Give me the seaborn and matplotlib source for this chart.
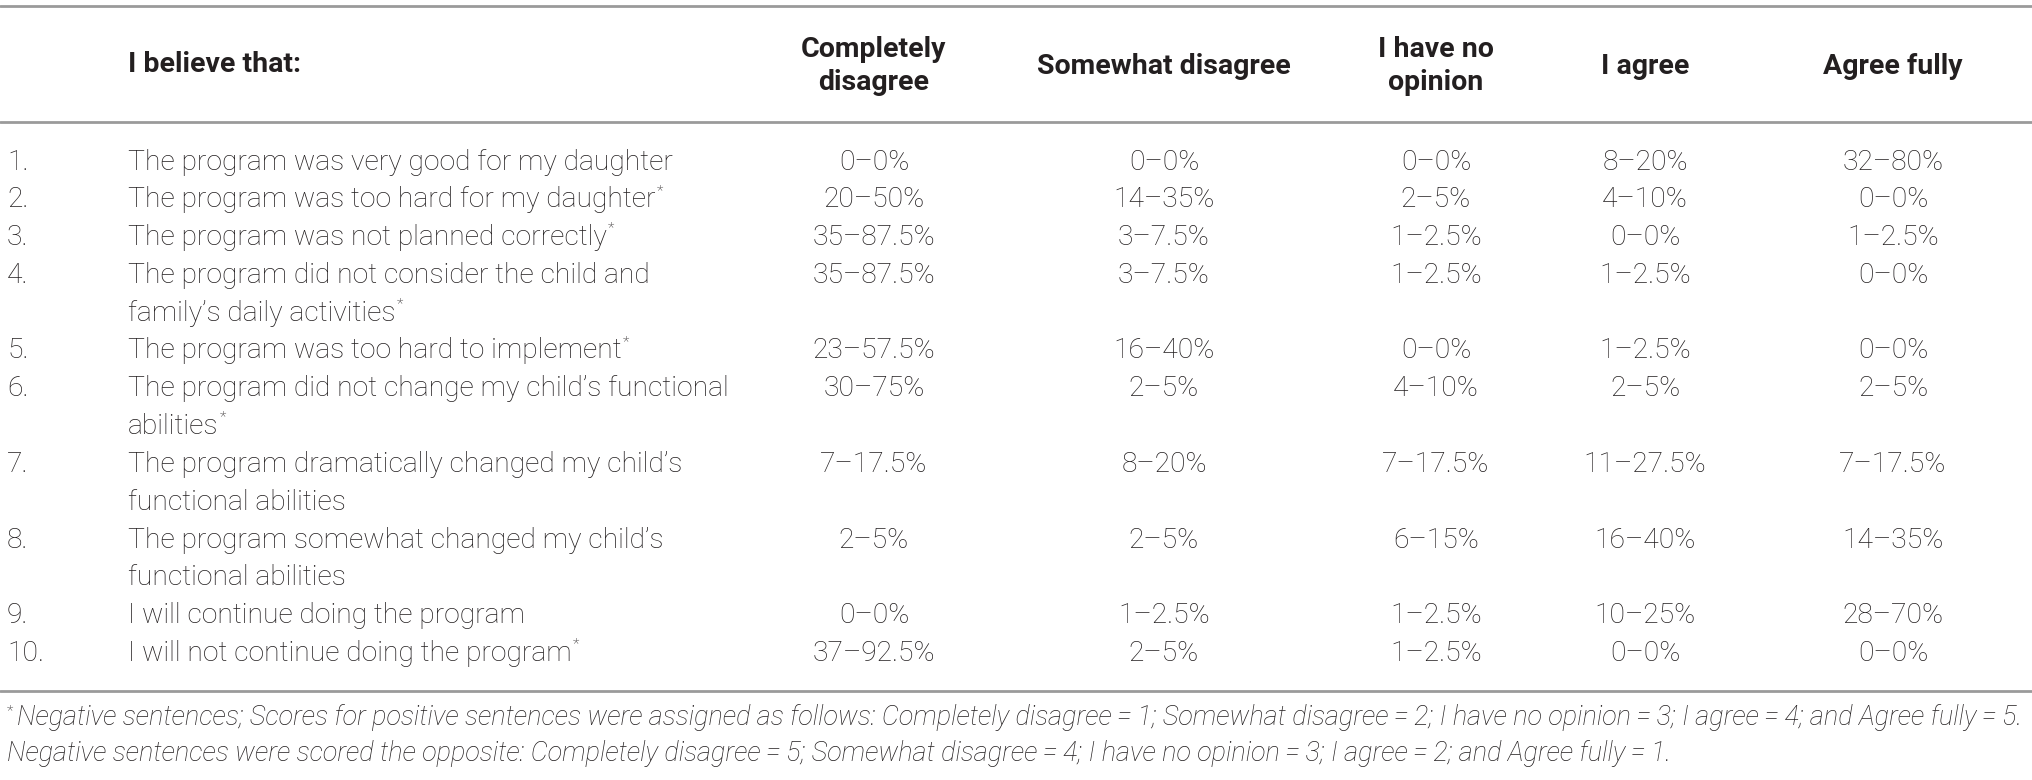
import numpy as np
import pandas as pd
import seaborn as sns
import matplotlib
matplotlib.use("Agg")
import matplotlib.pyplot as plt

sns.set_theme(style="white")
plt.rcParams['font.family'] = ['Roboto', 'DejaVu Sans']

# table content
header_label = "I believe that:"
columns = ["Completely\ndisagree", "Somewhat disagree", "I have no\nopinion", "I agree", "Agree fully"]
statements = [
    "The program was very good for my daughter",
    "The program was too hard for my daughter",
    "The program was not planned correctly",
    "The program did not consider the child and\nfamily\u2019s daily activities",
    "The program was too hard to implement",
    "The program did not change my child\u2019s functional\nabilities",
    "The program dramatically changed my child\u2019s\nfunctional abilities",
    "The program somewhat changed my child\u2019s\nfunctional abilities",
    "I will continue doing the program",
    "I will not continue doing the program",
]
negative = [False, True, True, True, True, True, False, False, False, True]
completely_disagree = ["0\u20130%", "20\u201350%", "35\u201387.5%", "35\u201387.5%", "23\u201357.5%",
                       "30\u201375%", "7\u201317.5%", "2\u20135%", "0\u20130%", "37\u201392.5%"]
somewhat_disagree = ["0\u20130%", "14\u201335%", "3\u20137.5%", "3\u20137.5%", "16\u201340%",
                     "2\u20135%", "8\u201320%", "2\u20135%", "1\u20132.5%", "2\u20135%"]
no_opinion = ["0\u20130%", "2\u20135%", "1\u20132.5%", "1\u20132.5%", "0\u20130%",
              "4\u201310%", "7\u201317.5%", "6\u201315%", "1\u20132.5%", "1\u20132.5%"]
agree = ["8\u201320%", "4\u201310%", "0\u20130%", "1\u20132.5%", "1\u20132.5%",
         "2\u20135%", "11\u201327.5%", "16\u201340%", "10\u201325%", "0\u20130%"]
agree_fully = ["32\u201380%", "0\u20130%", "1\u20132.5%", "0\u20130%", "0\u20130%",
               "2\u20135%", "7\u201317.5%", "14\u201335%", "28\u201370%", "0\u20130%"]
eq = "\u2009=\u2009"
footnote1 = ("Negative sentences; Scores for positive sentences were assigned as follows: "
             f"Completely disagree{eq}1; Somewhat disagree{eq}2; I have no opinion{eq}3; "
             f"I agree{eq}4; and Agree fully{eq}5.")
footnote2 = (f"Negative sentences were scored the opposite: Completely disagree{eq}5; "
             f"Somewhat disagree{eq}4; I have no opinion{eq}3; I agree{eq}2; and Agree fully{eq}1.")

df = pd.DataFrame({
    "statement": statements,
    columns[0]: completely_disagree,
    columns[1]: somewhat_disagree,
    columns[2]: no_opinion,
    columns[3]: agree,
    columns[4]: agree_fully,
})

W, H = 2032, 780
fig = plt.figure(figsize=(W / 100, H / 100), dpi=100)
ax = fig.add_axes([0, 0, 1, 1])
ax.set_xlim(0, W)
ax.set_ylim(H, 0)
ax.axis("off")

txt = "#231f20"
rule = "#9a9a9a"
fs = 20.3
hfs = 20.5
ffs = 19.45
num_x = 7
stmt_x = 128
col_x = [874, 1164, 1436, 1645, 1893]
row0 = 162
pitch = 37.8

# rules
for y in [6, 122]:
    ax.axhline(y, color=rule, lw=2)

# header
ax.text(stmt_x, 65, header_label, fontsize=hfs, fontweight="bold", color=txt, va="center", ha="left")
for cx, c in zip(col_x, columns):
    ax.text(cx, 66, c, fontsize=hfs, fontweight="bold", color=txt, va="center", ha="center",
            linespacing=1.3)

# body
stars = []
line_no = 0
for i, row in df.iterrows():
    y = row0 + line_no * pitch
    ax.text(num_x, y, f"{i + 1}.", fontsize=fs, fontweight="light", color=txt, va="center")
    parts = row["statement"].split("\n")
    for k, p in enumerate(parts):
        t = ax.text(stmt_x, y + k * pitch, p, fontsize=fs, fontweight="light", color=txt, va="center")
        if negative[i] and k == len(parts) - 1:
            stars.append((t, y + k * pitch))
    for cx, c in zip(col_x, columns):
        ax.text(cx, y, row[c], fontsize=fs, fontweight="light", color=txt, va="center", ha="center")
    line_no += len(parts)

bottom = row0 + (line_no - 1) * pitch + 38
ax.axhline(bottom, color=rule, lw=2)

ax.text(17, bottom + 26, footnote1, fontsize=ffs, fontstyle="italic", fontweight="light",
        color=txt, va="center")
ax.text(num_x, bottom + 62, footnote2, fontsize=ffs, fontstyle="italic", fontweight="light",
        color=txt, va="center")
ax.text(num_x, bottom + 20, "*", fontsize=11, color=txt, va="center", fontweight="light")

# superscript asterisks after negative statements
fig.canvas.draw()
inv = ax.transData.inverted()
for t, y in stars:
    bb = t.get_window_extent()
    x_end = inv.transform((bb.x1, bb.y0))[0]
    ax.text(x_end + 1, y - 9, "*", fontsize=11, color=txt, va="center", fontweight="light")

fig.savefig("out.png", dpi=100, facecolor="white")
